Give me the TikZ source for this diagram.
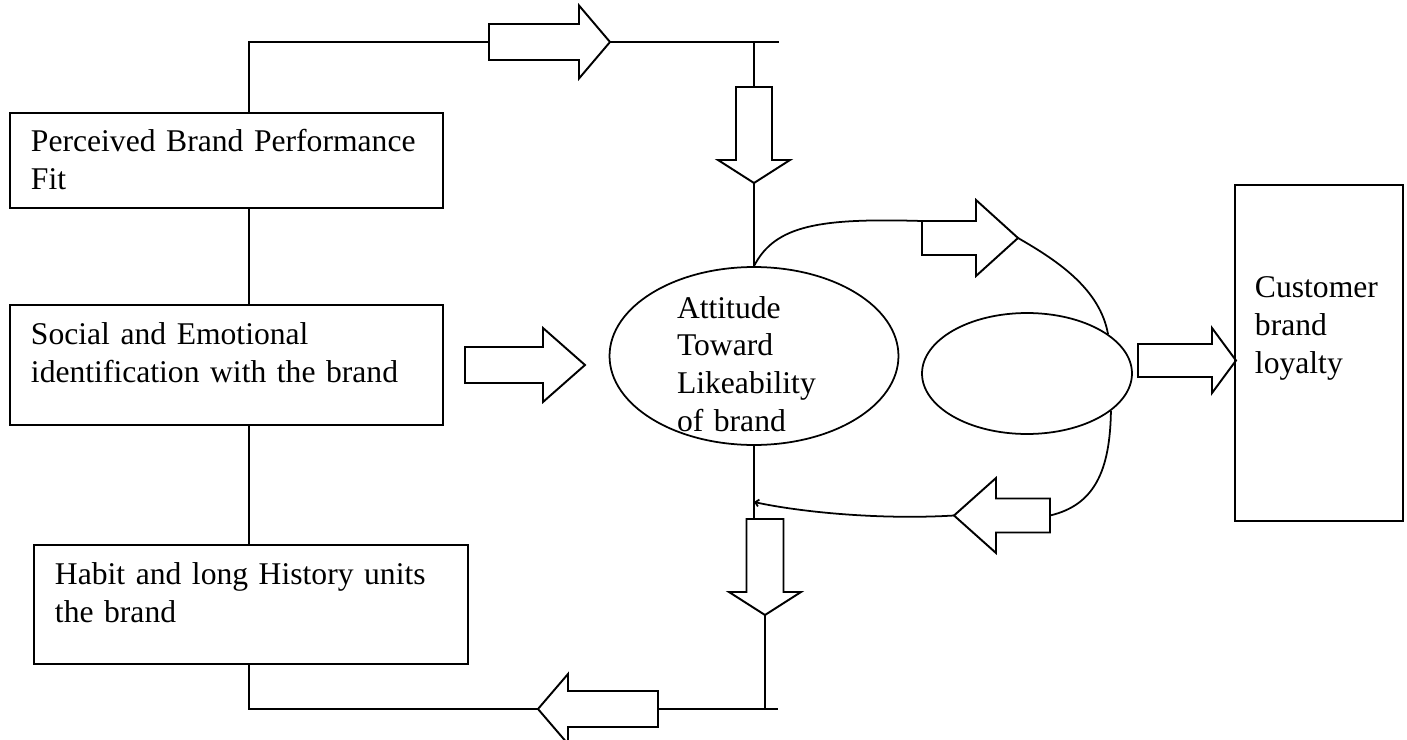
\documentclass[tikz,border=0pt]{standalone}
\usepackage{fontspec}
\setmainfont{Liberation Serif}
\usetikzlibrary{shapes.geometric,calc,arrows.meta}

\tikzset{
  pics/fatarrow/.style args={#1/#2/#3/#4}{code={
      \draw[line width=1.1pt] (0,-#3) -- (#1,-#3) -- (#1,-#4) -- (#2,0) -- (#1,#4) -- (#1,#3) -- (0,#3) -- cycle;
      \coordinate (-tail) at (0,0);
      \coordinate (-tip) at (#2,0);
  }}
}

\begin{document}
\begin{tikzpicture}[x=0.02cm, y=-0.02cm,
    box/.style={draw,line width=1.1pt,rectangle,anchor=north west,inner xsep=0.42cm,inner ysep=0pt,align=left,text height=0.78cm,font=\fontsize{18}{21.5}\selectfont},
    oval/.style={draw,ellipse,inner sep=0pt,line width=1pt,font=\fontsize{18}{21.5}\selectfont},
    link/.style={line width=1.1pt},
    curveline/.style={line width=1pt}
  ]
  \useasboundingbox (0,0) rectangle (1407,740);

  % boxes
  \node[box, text width=7.82cm, text depth=1.12cm] (perf) at (9,112) {Perceived Brand Performance\\Fit};
  \node[box, text width=7.82cm, text height=0.8cm, text depth=1.6cm] (soc) at (9,304) {Social and Emotional\\identification with the brand};
  \node[box, text width=7.84cm, text height=0.8cm, text depth=1.58cm] (habit) at (33,544) {Habit and long History units\\the brand};
  \node[box, text width=2.56cm, inner xsep=0.4cm, text height=2.26cm, text depth=4.46cm] (loyal) at (1234,184) {Customer\\brand\\loyalty};

  % ovals
  \node[oval, minimum width=5.78cm, minimum height=3.56cm, text width=3.08cm, align=left, text height=0.44cm, text depth=1.96cm] (attit) at (754,356) {Attitude\\Toward\\Likeability\\of brand};
  \node[oval, minimum width=4.2cm, minimum height=2.42cm] (mid) at (1027,373.5) {};

  % block arrows
  \pic (topA) at (489,42) {fatarrow=90/121/18/36.5};
  \pic[rotate=-90] (dnA) at (754,87) {fatarrow=73/96/18/36};
  \pic (socA) at (465,365) {fatarrow=78/120/18/37};
  \pic (upA) at (922,238) {fatarrow=54/96/17/38};
  \pic[rotate=180] (loA) at (1050,515.5) {fatarrow=54/96/17/37.5};
  \pic[rotate=-90] (dnB) at (765,519) {fatarrow=73/96/18.5/36};
  \pic[rotate=180] (loB) at (658,709) {fatarrow=90/120/18/35};
  \pic (rA) at (1138,360.5) {fatarrow=74/98/16.5/32.5};

  \coordinate (tl) at (249,42);
  \coordinate (tr) at (779,42);
  \coordinate (tj) at (754,42);
  \coordinate (bl) at (249,709);
  \coordinate (br) at (778,709);
  \coordinate (back) at (754,502);

  % straight lines
  \draw[link] (perf.north -| tl) -- (tl) -- (topA-tail);
  \draw[link] (topA-tip) -- (tr);
  \draw[link] (tj) -- (dnA-tail);
  \draw[link] (dnA-tip) -- (attit.north);
  \draw[link] (perf.south -| tl) -- (soc.north -| tl);
  \draw[link] (soc.south -| tl) -- (habit.north -| tl);
  \draw[link] (habit.south -| tl) -- (bl) -- (loB-tip);
  \draw[link] (loB-tail) -- (br);
  \draw[link] (dnB-tip) -- (dnB-tip |- br);
  \draw[link] (attit.south) -- (attit.south |- dnB-tail);

  % curves
  \draw[curveline] (attit.north) .. controls (775,225) and (820,218) .. ($(upA-tail)+(0,-17)$);
  \draw[curveline] (upA-tip) .. controls (1060,262) and (1100,290) .. (mid.26);
  \draw[curveline] (mid.-24) .. controls (1110,470) and (1095,505) .. (loA-tail);
  \draw[curveline, -{Straight Barb[length=2pt,width=4pt]}] (loA-tip) .. controls (880,520) and (800,512) .. (back);
\end{tikzpicture}
\end{document}
